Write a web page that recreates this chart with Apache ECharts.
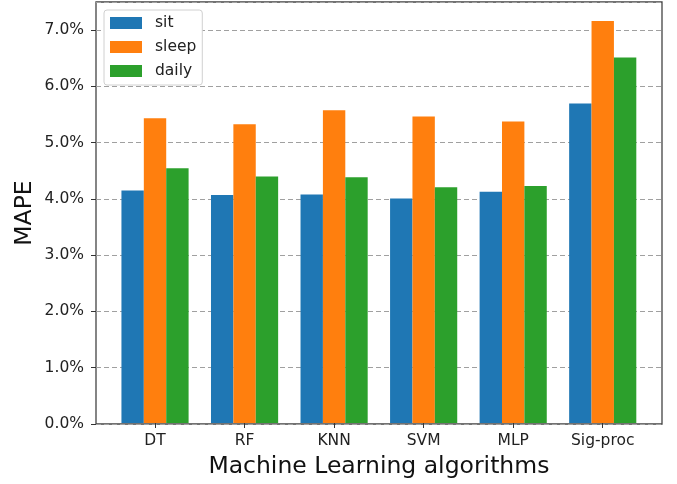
<!DOCTYPE html>
<html>
<head>
<meta charset="utf-8">
<script src="https://cdn.jsdelivr.net/npm/echarts@6/dist/echarts.min.js"></script>
<style>html,body{margin:0;padding:0;background:#fff;}#main{width:677px;height:484px;}</style>
</head>
<body>
<div id="main"></div>
<script>
// MAPE per algorithm
var categories = ['DT', 'RF', 'KNN', 'SVM', 'MLP', 'Sig-proc'];
var legendData = ['sit', 'sleep', 'daily'];
var sitData   = [4.14, 4.06, 4.07, 4.00, 4.12, 5.69];
var sleepData = [5.43, 5.32, 5.57, 5.46, 5.37, 7.16];
var dailyData = [4.54, 4.39, 4.38, 4.20, 4.22, 6.51];
var colors = ['#1f77b4', '#ff7f0e', '#2ca02c'];
var font = 'DejaVu Sans';

var myChart = echarts.init(document.getElementById('main'));
var metaData = [sitData, sleepData, dailyData];
var serieData = [];
for (var v = 0; v < legendData.length; v++) {
    serieData.push({
        name: legendData[v],
        type: 'bar',
        xAxisIndex: 1,
        yAxisIndex: 1,
        barWidth: '25%',
        barGap: '0%',
        data: metaData[v]
    });
}

var option = {
    backgroundColor: '#fff',
    animation: false,
    color: colors,
    textStyle: {fontFamily: font},
    legend: {
        show: true, orient: 'vertical', left: 104, top: 10,
        data: legendData, icon: 'rect',
        itemWidth: 32, itemHeight: 12, itemGap: 8,
        padding: [5, 6, 6, 6],
        backgroundColor: '#fff', borderColor: '#d0d0d0', borderWidth: 1, borderRadius: 3,
        textStyle: {color: '#222', fontSize: 15.5, fontFamily: font, padding: [0, 0, 0, 8]}
    },
    grid: [
        {left: 96, right: 15, top: 2, bottom: 60, show: true, borderColor: '#444', borderWidth: 1.3, backgroundColor: 'transparent'},
        {left: 110.25, right: 29.5, top: 2, bottom: 60}
    ],
    xAxis: [
        {type: 'value', gridIndex: 0, show: false, min: 0, max: 1},
        {
            type: 'category', gridIndex: 1, data: categories,
            axisLine: {show: false},
            axisTick: {show: true, alignWithLabel: true, length: 5, lineStyle: {color: '#333', width: 1}},
            axisLabel: {color: '#222', fontSize: 15.5, fontFamily: font, margin: 10},
            name: 'Machine Learning algorithms', nameLocation: 'middle', nameGap: 32,
            nameMoveOverlap: false,
            nameTextStyle: {color: '#111', fontSize: 23.5, fontFamily: font}
        }
    ],
    yAxis: [
        {
            type: 'value', gridIndex: 0, min: 0, max: 7.5, interval: 1,
            axisLine: {show: false},
            axisTick: {show: true, length: 5, lineStyle: {color: '#333', width: 1}},
            axisLabel: {color: '#222', fontSize: 15.5, fontFamily: font, margin: 12, showMaxLabel: false,
                formatter: function (val) { return val.toFixed(1) + '%'; }},
            splitLine: {show: true, lineStyle: {color: '#a0a0a0', type: [5, 3], width: 1}},
            name: 'MAPE', nameLocation: 'middle', nameGap: 59,
            nameMoveOverlap: false,
            nameTextStyle: {color: '#111', fontSize: 23.5, fontFamily: font}
        },
        {type: 'value', gridIndex: 1, min: 0, max: 7.5, show: false, splitLine: {show: false}}
    ],
    series: serieData
};

myChart.setOption(option);
</script>
</body>
</html>
